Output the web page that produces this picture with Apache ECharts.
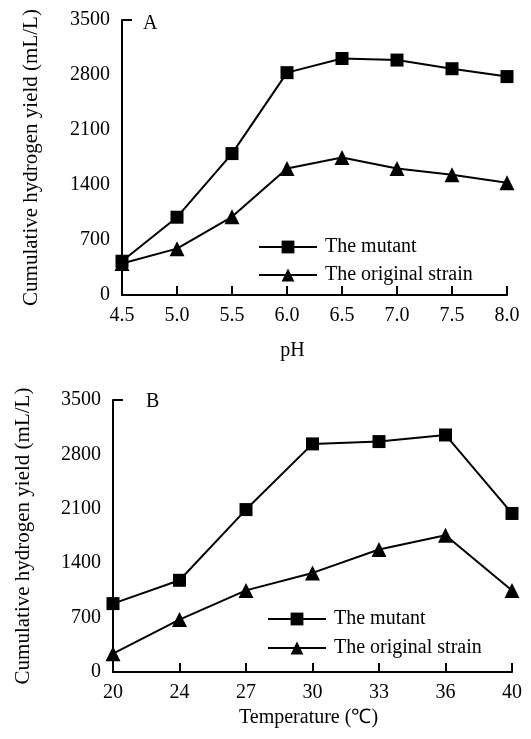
<!DOCTYPE html>
<html>
<head>
<meta charset="utf-8">
<script src="https://cdn.jsdelivr.net/npm/echarts@6/dist/echarts.min.js"></script>
<style>
  html, body { margin: 0; padding: 0; background: #fff; }
  #chart { width: 531px; height: 739px; }
</style>
</head>
<body>
<div id="chart"></div>
<script>
/* Panel A: effect of pH */
var phLabels      = ['4.5', '5.0', '5.5', '6.0', '6.5', '7.0', '7.5', '8.0'];
var phMutant      = [430, 990, 1800, 2830, 3010, 2990, 2880, 2780];
var phOriginal    = [400, 590, 995, 1610, 1750, 1610, 1530, 1430];

/* Panel B: effect of temperature */
var tempLabels    = ['20', '24', '27', '30', '33', '36', '40'];
var tempMutant    = [880, 1180, 2090, 2935, 2965, 3050, 2040];
var tempOriginal  = [236, 675, 1050, 1275, 1576, 1760, 1050];

var yMax      = 3500;
var yStep     = 700;
var nameMut   = 'The mutant';
var nameOrig  = 'The original strain';

var FONT  = "'Liberation Serif', 'Times New Roman', serif";
var INK   = '#000';

function xAxisOf(grid, labels, name, nameGap, namePad)
{
    return {
        type: 'category',
        gridIndex: grid,
        data: labels,
        boundaryGap: false,
        name: name,
        nameLocation: 'middle',
        nameGap: nameGap,
        nameTextStyle: {color: INK, fontFamily: FONT, fontSize: 20, padding: namePad},
        axisLine: {lineStyle: {color: INK, width: 2}},
        axisTick: {inside: true, length: 9, alignWithLabel: true, lineStyle: {color: INK, width: 2}},
        axisLabel: {color: INK, fontFamily: FONT, fontSize: 20, margin: 11, interval: 0},
        splitLine: {show: false}
    };
}

function yAxisOf(grid, nameGap)
{
    return {
        type: 'value',
        gridIndex: grid,
        position: 'left',
        min: 0,
        max: yMax,
        interval: yStep,
        name: 'Cumulative hydrogen yield (mL/L)',
        nameLocation: 'middle',
        nameGap: nameGap,
        nameTextStyle: {color: INK, fontFamily: FONT, fontSize: 21},
        axisLine: {show: true, lineStyle: {color: INK, width: 2}},
        axisTick: {show: false},
        axisLabel: {color: INK, fontFamily: FONT, fontSize: 20, margin: 12, formatter: function(v) { return String(v); }},
        splitLine: {show: false}
    };
}

/* Only the top of the y axis carries a tick in the original. */
function yTickAxisOf(grid)
{
    return {
        type: 'value',
        gridIndex: grid,
        position: 'left',
        min: 0,
        max: yMax,
        interval: yMax,
        axisLine: {show: false},
        axisTick: {show: true, inside: true, length: 10, lineStyle: {color: INK, width: 2}},
        axisLabel: {show: false},
        splitLine: {show: false}
    };
}

function seriesOf(name, grid, data, symbol, size)
{
    return {
        name: name,
        type: 'line',
        xAxisIndex: grid,
        yAxisIndex: grid * 2,
        data: data,
        symbol: symbol,
        symbolSize: size,
        showAllSymbol: true,
        lineStyle: {color: INK, width: 2},
        itemStyle: {color: INK},
        emphasis: {disabled: true},
        animation: false
    };
}

function legendOf(left, top, gap)
{
    return {
        orient: 'vertical',
        left: left,
        top: top,
        itemWidth: 58,
        itemHeight: 16,
        itemGap: gap,
        selectedMode: false,
        data: [nameMut, nameOrig],
        textStyle: {color: INK, fontFamily: FONT, fontSize: 20, lineHeight: 20, padding: [0, 0, 0, 3]}
    };
}

var chart = echarts.init(document.getElementById('chart'), null, {renderer: 'canvas'});

chart.setOption({
    backgroundColor: '#fff',
    animation: false,
    title: [
        {text: 'A', left: 138, top: 9, textStyle: {color: INK, fontFamily: FONT, fontSize: 20, fontWeight: 'normal'}},
        {text: 'B', left: 141, top: 387, textStyle: {color: INK, fontFamily: FONT, fontSize: 20, fontWeight: 'normal'}}
    ],
    grid: [
        {left: 122, right: 24, top: 20, bottom: 444},
        {left: 113, right: 19, top: 400, bottom: 67}
    ],
    legend: [
        legendOf(253, 232, 8),
        legendOf(262, 604, 9)
    ],
    xAxis: [
        xAxisOf(0, phLabels, 'pH', 46, [0, 44, 0, 0]),
        xAxisOf(1, tempLabels, 'Temperature (℃)', 36, [0, 8, 0, 0])
    ],
    yAxis: [
        yAxisOf(0, 80),
        yTickAxisOf(0),
        yAxisOf(1, 79),
        yTickAxisOf(1)
    ],
    series: [
        seriesOf(nameMut, 0, phMutant, 'rect', 13),
        seriesOf(nameOrig, 0, phOriginal, 'triangle', 15),
        seriesOf(nameMut, 1, tempMutant, 'rect', 13),
        seriesOf(nameOrig, 1, tempOriginal, 'triangle', 15)
    ]
});
</script>
</body>
</html>
